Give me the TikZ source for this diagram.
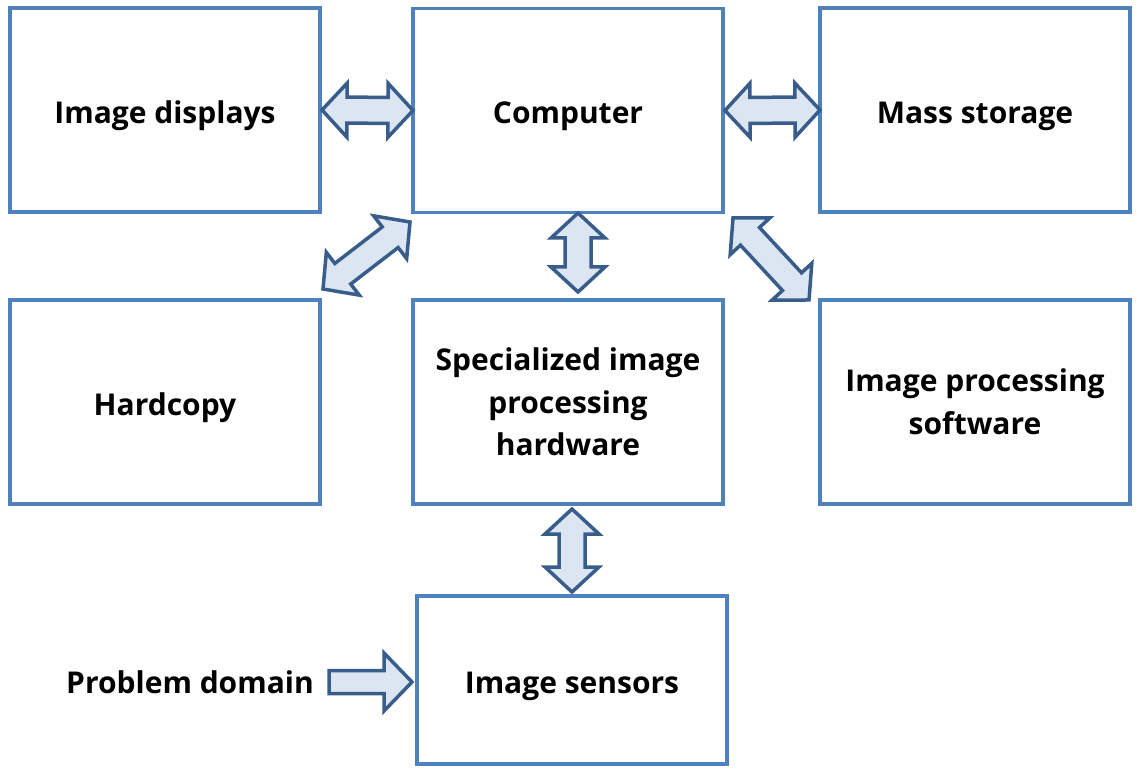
\documentclass[tikz,border=0pt]{standalone}
\usepackage{fontspec}
\setmainfont{Open Sans}
\usetikzlibrary{calc}
\definecolor{boxblue}{HTML}{4F81BD}
\definecolor{arrfill}{HTML}{DCE6F2}
\definecolor{arrline}{HTML}{385D8A}
\newcommand\ah{25pt}
\newcommand\aw{27pt}
\newcommand\as{13pt}
\newcommand\blockdbl[2]{%
  \draw[blockarr] (#1)
    -- ($(#1)!\ah!(#2)!\aw!90:(#2)$)
    -- ($(#1)!\ah!(#2)!\as!90:(#2)$)
    -- ($(#2)!\ah!(#1)!\as!-90:(#1)$)
    -- ($(#2)!\ah!(#1)!\aw!-90:(#1)$)
    -- (#2)
    -- ($(#2)!\ah!(#1)!\aw!90:(#1)$)
    -- ($(#2)!\ah!(#1)!\as!90:(#1)$)
    -- ($(#1)!\ah!(#2)!\as!-90:(#2)$)
    -- ($(#1)!\ah!(#2)!\aw!-90:(#2)$)
    -- cycle;}
\newcommand\blocksgl[2]{%
  \draw[blockarr] ($(#1)!11.5pt!90:(#2)$)
    -- ($(#2)!28pt!(#1)!11.5pt!-90:(#1)$)
    -- ($(#2)!28pt!(#1)!29pt!-90:(#1)$)
    -- (#2)
    -- ($(#2)!28pt!(#1)!29pt!90:(#1)$)
    -- ($(#2)!28pt!(#1)!11.5pt!90:(#1)$)
    -- ($(#1)!11.5pt!-90:(#2)$)
    -- cycle;}
\tikzset{
  boxbase/.style={draw=boxblue, line width=3.5pt, minimum width=310pt, minimum height=204pt,
    inner sep=0pt, outer sep=0pt, align=center, font=\bfseries\fontsize{30}{42.5}\selectfont},
  sysbox/.style={boxbase, execute at begin node={\rule{0pt}{34pt}}},
  multibox/.style={boxbase, execute at begin node={\rule{0pt}{41pt}}},
  plain/.style={inner sep=0pt, font=\bfseries\fontsize{30}{42.5}\selectfont},
  blockarr/.style={draw=arrline, fill=arrfill, line width=3.5pt, line join=miter, miter limit=10}
}
\begin{document}
\begin{tikzpicture}[x=1pt,y=-1pt]
\useasboundingbox (0,0) rectangle (1141,775);
\node[sysbox] (disp) at (165,110) {Image displays};
\node[sysbox] (comp) at (568,110.5) {Computer};
\node[sysbox] (mass) at (975,110) {Mass storage};
\node[sysbox] (hard) at (165,402) {Hardcopy};
\node[multibox] (spec) at (568,402) {Specialized image\\processing\\hardware};
\node[multibox] (soft) at (975,402) {Image processing\\software};
\node[sysbox, minimum height=168pt] (sens) at (572,680) {Image sensors};
\node[plain] (pd) at (190,682) {Problem domain};
% arrow end points
\coordinate (a1s) at ($(disp.east)+(2,0)$);
\coordinate (a1e) at (comp.west);
\coordinate (a2s) at ($(comp.east)+(2,0)$);
\coordinate (a2e) at (mass.west);
\coordinate (a3s) at ($(comp.south)+(10,0.5)$);
\coordinate (a3e) at ($(spec.north)+(10,-8)$);
\coordinate (a4s) at ($(spec.south)+(4,5)$);
\coordinate (a4e) at ($(sens.north)+(0,-4)$);
\coordinate (a5s) at ($(hard.north east)+(3,-11)$);
\coordinate (a5e) at ($(comp.south west)+(-3,9.5)$);
\coordinate (a6s) at ($(comp.south east)+(10,5.5)$);
\coordinate (a6e) at ($(soft.north west)+(-11,0)$);
\coordinate (a7s) at ($(sens.west)+(-88,2)$);
\coordinate (a7e) at ($(sens.west)+(-5,2)$);
\blockdbl{a1s}{a1e}
\blockdbl{a2s}{a2e}
\blockdbl{a3s}{a3e}
\blockdbl{a4s}{a4e}
\blockdbl{a5s}{a5e}
\blockdbl{a6s}{a6e}
\blocksgl{a7s}{a7e}
\end{tikzpicture}
\end{document}
